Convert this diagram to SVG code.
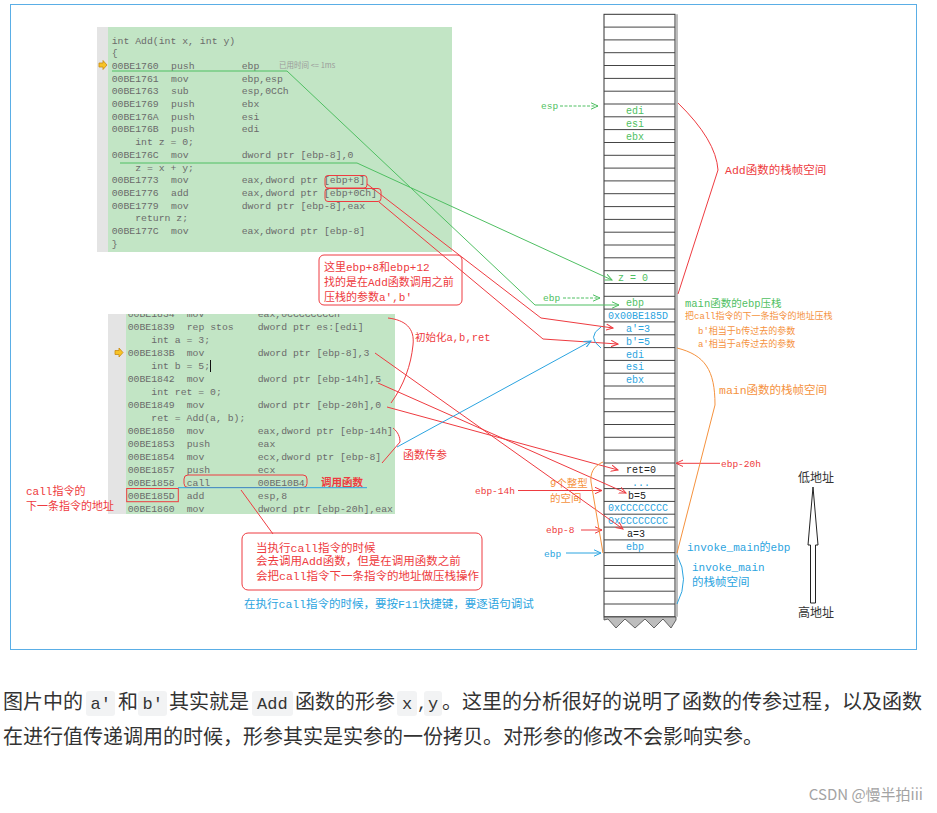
<svg xmlns="http://www.w3.org/2000/svg" width="937" height="813" viewBox="0 0 937 813">
<style>
.code{font-family:"Liberation Mono","DejaVu Sans Mono",monospace;font-size:9.8px;fill:#6b6b6b}
.ann{font-family:"Liberation Mono","Noto Sans CJK SC",monospace}
.r{fill:#ee3b40}.g{fill:#4fbf62}.b{fill:#2ba4e0}.o{fill:#f5923e}.k{fill:#222}
.st{font-family:"Liberation Mono",monospace;font-size:10px}
.lr{stroke:#ee3b40;fill:none;stroke-width:1}
.lg{stroke:#4fbf62;fill:none;stroke-width:1}
.lb{stroke:#2ba4e0;fill:none;stroke-width:1}
.lo{stroke:#f5923e;fill:none;stroke-width:1}
.bt{font-family:"Noto Sans CJK SC","Noto Sans",sans-serif;font-size:20px;fill:#333}
.bc{font-family:"Liberation Mono",monospace;font-size:17px;fill:#333}
.cbg{fill:#f2f3f4}
</style>
<defs>
<marker id="mr" markerWidth="8" markerHeight="8" refX="7" refY="4" orient="auto" markerUnits="userSpaceOnUse"><path d="M0,0.8 L7,4 L0,7.2" fill="none" stroke="#ee3b40" stroke-width="1"/></marker>
<marker id="mg" markerWidth="8" markerHeight="8" refX="7" refY="4" orient="auto" markerUnits="userSpaceOnUse"><path d="M0,0.8 L7,4 L0,7.2" fill="none" stroke="#4fbf62" stroke-width="1"/></marker>
<marker id="mb" markerWidth="8" markerHeight="8" refX="7" refY="4" orient="auto" markerUnits="userSpaceOnUse"><path d="M0,0.8 L7,4 L0,7.2" fill="none" stroke="#2ba4e0" stroke-width="1"/></marker>
<clipPath id="c2"><rect x="100" y="314" width="300" height="210"/></clipPath>
<path id="yarrow" d="M0,-2 L4,-2 L4,-4.5 L8,0 L4,4.5 L4,2 L0,2 Z" fill="#f7c325" stroke="#c98a10" stroke-width="0.8"/>
</defs>
<rect width="937" height="813" fill="#fff"/>
<rect id="frame" x="10.5" y="4.5" width="906" height="645" fill="none" stroke="#5aaee6" stroke-width="1"/>

<g id="code-add">
<rect x="97" y="27" width="11" height="225" fill="#e4e4e4"/>
<rect x="108" y="27" width="344" height="225" fill="#c2e5c5"/>
<use href="#yarrow" x="99" y="65"/>
<text class="code" x="111.7" y="43.5">int Add(int x, int y)</text>
<text class="code" x="111.7" y="56.2">{</text>
<text class="code" y="68.9"><tspan x="111.7">00BE1760</tspan><tspan x="171">push</tspan><tspan x="241.7">ebp</tspan></text>
<text x="279" y="68" style="font-family:'Noto Sans CJK SC',sans-serif;font-size:7.5px;fill:#9a9a9a">已用时间 &lt;= 1ms</text>
<text class="code" y="81.6"><tspan x="111.7">00BE1761</tspan><tspan x="171">mov</tspan><tspan x="241.7">ebp,esp</tspan></text>
<text class="code" y="94.3"><tspan x="111.7">00BE1763</tspan><tspan x="171">sub</tspan><tspan x="241.7">esp,0CCh</tspan></text>
<text class="code" y="107"><tspan x="111.7">00BE1769</tspan><tspan x="171">push</tspan><tspan x="241.7">ebx</tspan></text>
<text class="code" y="119.7"><tspan x="111.7">00BE176A</tspan><tspan x="171">push</tspan><tspan x="241.7">esi</tspan></text>
<text class="code" y="132.4"><tspan x="111.7">00BE176B</tspan><tspan x="171">push</tspan><tspan x="241.7">edi</tspan></text>
<text class="code" x="135.2" y="145.1">int z = 0;</text>
<text class="code" y="157.8"><tspan x="111.7">00BE176C</tspan><tspan x="171">mov</tspan><tspan x="241.7">dword ptr [ebp-8],0</tspan></text>
<text class="code" x="135.2" y="170.5">z = x + y;</text>
<text class="code" y="183.2"><tspan x="111.7">00BE1773</tspan><tspan x="171">mov</tspan><tspan x="241.7">eax,dword ptr [ebp+8]</tspan></text>
<text class="code" y="195.9"><tspan x="111.7">00BE1776</tspan><tspan x="171">add</tspan><tspan x="241.7">eax,dword ptr [ebp+0Ch]</tspan></text>
<text class="code" y="208.6"><tspan x="111.7">00BE1779</tspan><tspan x="171">mov</tspan><tspan x="241.7">dword ptr [ebp-8],eax</tspan></text>
<text class="code" x="135.2" y="221.3">return z;</text>
<text class="code" y="234"><tspan x="111.7">00BE177C</tspan><tspan x="171">mov</tspan><tspan x="241.7">eax,dword ptr [ebp-8]</tspan></text>
<text class="code" x="111.7" y="246.7">}</text>
<rect x="325" y="175.5" width="42" height="12.5" rx="3" class="lr"/>
<rect x="325" y="188.5" width="56" height="13" rx="3" class="lr"/>
</g>

<g id="code-main">
<rect x="108" y="314" width="18" height="200" fill="#e4e4e4"/>
<rect x="126" y="314" width="269" height="200" fill="#c2e5c5"/>
<g clip-path="url(#c2)">
<text class="code" y="316.7"><tspan x="127.7">00BE1834</tspan><tspan x="186.7">mov</tspan><tspan x="257.7">eax,0CCCCCCCCh</tspan></text>
</g>
<use href="#yarrow" x="115" y="352.5"/>
<text class="code" y="330.2"><tspan x="127.7">00BE1839</tspan><tspan x="186.7">rep stos</tspan><tspan x="257.7">dword ptr es:[edi]</tspan></text>
<text class="code" x="151.3" y="343.2">int a = 3;</text>
<text class="code" y="356.1"><tspan x="127.7">00BE183B</tspan><tspan x="186.7">mov</tspan><tspan x="257.7">dword ptr [ebp-8],3</tspan></text>
<text class="code" x="151.3" y="369.1">int b = 5;</text>
<line x1="210.5" y1="360" x2="210.5" y2="372" stroke="#111" stroke-width="1"/>
<text class="code" y="382"><tspan x="127.7">00BE1842</tspan><tspan x="186.7">mov</tspan><tspan x="257.7">dword ptr [ebp-14h],5</tspan></text>
<text class="code" x="151.3" y="395">int ret = 0;</text>
<text class="code" y="407.9"><tspan x="127.7">00BE1849</tspan><tspan x="186.7">mov</tspan><tspan x="257.7">dword ptr [ebp-20h],0</tspan></text>
<text class="code" x="151.3" y="420.9">ret = Add(a, b);</text>
<text class="code" y="433.8"><tspan x="127.7">00BE1850</tspan><tspan x="186.7">mov</tspan><tspan x="257.7">eax,dword ptr [ebp-14h]</tspan></text>
<text class="code" y="446.8"><tspan x="127.7">00BE1853</tspan><tspan x="186.7">push</tspan><tspan x="257.7">eax</tspan></text>
<text class="code" y="459.7"><tspan x="127.7">00BE1854</tspan><tspan x="186.7">mov</tspan><tspan x="257.7">ecx,dword ptr [ebp-8]</tspan></text>
<text class="code" y="472.7"><tspan x="127.7">00BE1857</tspan><tspan x="186.7">push</tspan><tspan x="257.7">ecx</tspan></text>
<text class="code" y="485.6"><tspan x="127.7">00BE1858</tspan><tspan x="186.7">call</tspan><tspan x="257.7">00BE10B4</tspan></text>
<text class="code" y="498.6"><tspan x="127.7">00BE185D</tspan><tspan x="186.7">add</tspan><tspan x="257.7">esp,8</tspan></text>
<text class="code" y="511.5"><tspan x="127.7">00BE1860</tspan><tspan x="186.7">mov</tspan><tspan x="257.7">dword ptr [ebp-20h],eax</tspan></text>
<rect x="184" y="475" width="123" height="12.5" rx="4" class="lr"/>
<rect x="126.7" y="488.5" width="51.6" height="13.2" class="lr"/>
</g>

<g id="stack">
<rect x="604" y="14.3" width="71" height="602.5" fill="#fff" stroke="#333" stroke-width="1"/>
<line x1="677" y1="14.3" x2="677" y2="616.8" stroke="#bdbdbd" stroke-width="2"/>
<path stroke="#444" stroke-width="1" fill="none" d="M604,27.1H675M604,39.9H675M604,52.7H675M604,65.5H675M604,78.4H675M604,91.2H675M604,104H675M604,116.8H675M604,129.6H675M604,142.5H675M604,155.3H675M604,168.1H675M604,180.9H675M604,193.7H675M604,206.6H675M604,219.4H675M604,232.2H675M604,245H675M604,257.8H675M604,270.7H675M604,283.5H675M604,296.3H675M604,309.1H675M604,321.9H675M604,334.8H675M604,347.6H675M604,360.4H675M604,373.2H675M604,386H675M604,398.9H675M604,411.7H675M604,424.5H675M604,437.3H675M604,450.1H675M604,463H675M604,475.8H675M604,488.6H675M604,501.4H675M604,514.2H675M604,527.1H675M604,539.9H675M604,552.7H675M604,565.5H675M604,578.3H675M604,591.2H675M604,604H675"/>
<polygon points="604,617 676,617 676,620 671,628 663,619 654,628 645,619 635,628 625,619 616,628 608,619 604,620" fill="#bdbdbd" stroke="#444" stroke-width="0.8"/>
<text class="st g" x="626" y="114">edi</text>
<text class="st g" x="626" y="126.8">esi</text>
<text class="st g" x="626" y="139.6">ebx</text>
<text class="st g" x="618" y="280.7">z = 0</text>
<text class="st g" x="626" y="306.3">ebp</text>
<text class="st b" x="608" y="319.1">0x00BE185D</text>
<text class="st b" x="626" y="331.9">a'=3</text>
<text class="st b" x="626" y="344.8">b'=5</text>
<text class="st b" x="626" y="357.6">edi</text>
<text class="st b" x="626" y="370.4">esi</text>
<text class="st b" x="626" y="383.2">ebx</text>
<text class="st k" x="626" y="473">ret=0</text>
<text class="st b" x="632" y="485.8">...</text>
<text class="st k" x="628" y="498.6">b=5</text>
<text class="st b" x="608" y="511.4">0xCCCCCCCC</text>
<text class="st b" x="608" y="524.2">0xCCCCCCCC</text>
<text class="st k" x="627" y="537.1">a=3</text>
<text class="st b" x="626" y="549.9">ebp</text>
</g>

<g id="labels">
<text class="ann g" x="541" y="109" font-size="9.5">esp</text>
<text class="ann g" x="543" y="301" font-size="9.5">ebp</text>
<text class="ann r" x="475" y="494" font-size="9.5">ebp-14h</text>
<text class="ann r" x="546" y="533" font-size="9.5">ebp-8</text>
<text class="ann b" x="544" y="557" font-size="9.5">ebp</text>
<text class="ann r" x="721" y="466.5" font-size="9.5">ebp-20h</text>
<text class="ann o" x="550" y="486.5" font-size="10.5">9个整型</text>
<text class="ann o" x="550" y="501.5" font-size="10.5">的空间</text>
<text class="ann r" x="725" y="174" font-size="11.5">Add函数的栈帧空间</text>
<text class="ann g" x="685" y="307" font-size="10.5">main函数的ebp压栈</text>
<text class="ann o" x="685" y="318.5" font-size="9">把call指令的下一条指令的地址压栈</text>
<text class="ann o" x="698" y="334" font-size="9">b'相当于b传过去的参数</text>
<text class="ann o" x="698" y="347" font-size="9">a'相当于a传过去的参数</text>
<text class="ann o" x="719" y="394" font-size="11.5">main函数的栈帧空间</text>
<text class="ann b" x="687" y="550.5" font-size="11">invoke_main的ebp</text>
<text class="ann b" x="692" y="571" font-size="11">invoke_main</text>
<text class="ann b" x="692" y="586" font-size="11.5">的栈帧空间</text>
<text class="ann r" x="415" y="340.5" font-size="10.5">初始化a,b,ret</text>
<text class="ann r" x="403" y="459" font-size="11">函数传参</text>
<text class="ann r" x="321" y="486" font-size="10.5" font-weight="bold">调用函数</text>
<text class="ann r" x="26" y="495" font-size="11">call指令的</text>
<text class="ann r" x="26" y="510" font-size="11">下一条指令的地址</text>
<text class="ann b" x="244" y="608" font-size="11.5">在执行call指令的时候，要按F11快捷键，要逐语句调试</text>
<text x="798" y="482" style="font-family:'Noto Sans CJK SC',sans-serif;font-size:12px;fill:#333">低地址</text>
<text x="798" y="617" style="font-family:'Noto Sans CJK SC',sans-serif;font-size:12px;fill:#333">高地址</text>
<polygon points="813,487 818,545 815.5,545 815.5,603 810.5,603 810.5,545 808,545" fill="#fff" stroke="#222" stroke-width="1"/>
</g>

<g id="note-ebp">
<rect x="319" y="255" width="143" height="50" rx="5" class="lr"/>
<text class="ann r" x="324" y="271" font-size="11">这里ebp+8和ebp+12</text>
<text class="ann r" x="324" y="286" font-size="11">找的是在Add函数调用之前</text>
<text class="ann r" x="324" y="300.5" font-size="11">压栈的参数a',b'</text>
</g>

<g id="note-call">
<rect x="242" y="533" width="240" height="57" rx="6" class="lr"/>
<text class="ann r" x="256" y="551.5" font-size="11.5">当执行call指令的时候</text>
<text class="ann r" x="256" y="565" font-size="11.5">会去调用Add函数，但是在调用函数之前</text>
<text class="ann r" x="256" y="580" font-size="11.5">会把call指令下一条指令的地址做压栈操作</text>
</g>

<g id="connectors">
<path class="lg" d="M112,71 H287 L535,305 H619" marker-end="url(#mg)"/>
<path class="lg" d="M120,163 H357 L612,280" marker-end="url(#mg)"/>
<path class="lg" d="M560,106 H598" stroke-dasharray="3,1.5" marker-end="url(#mg)"/>
<path class="lg" d="M563,298 H600" stroke-dasharray="3,1.5" marker-end="url(#mg)"/>
<path class="lr" d="M367,184 L541,318 L613,328" marker-end="url(#mr)"/>
<path class="lr" d="M379,202 L543,339 L618,344" marker-end="url(#mr)"/>
<path class="lr" d="M375,353 L623,529" marker-end="url(#mr)"/>
<path class="lr" d="M378,383 L626,493" marker-end="url(#mr)"/>
<path class="lr" d="M387,407 L618,470" marker-end="url(#mr)"/>
<path class="lr" d="M518,490.5 H602" marker-end="url(#mr)"/>
<path class="lr" d="M581,530 H602" marker-end="url(#mr)"/>
<path class="lr" d="M720,463.3 H676" marker-end="url(#mr)"/>
<path class="lb" d="M566,553 H601" marker-end="url(#mb)"/>
<path class="lb" d="M397,447 L591,341" marker-end="url(#mb)"/>
<path class="lb" d="M178,487.7 H367"/>
<path class="lb" d="M601,327 Q586,337 601,348"/>
<path class="lb" d="M677,555 Q690,579 677,604"/>
<path class="lr" d="M241,490 L273,534"/>
<path class="lr" d="M388,318 C405,320 415,328 413,345 C411,365 404,385 391,403"/>
<path class="lr" d="M393,428 C398,432 400,437 400,442 L382,463"/>
<path class="lr" d="M678,103 Q716,140 718,170 L678,294"/>
<path class="lo" d="M677,348 C705,355 715,370 715,405 L677,553"/>
<path class="lo" d="M603,462 C593,466 590,474 591,482 L603,553"/>
</g>

<g id="caption">
<text class="bt" x="3" y="709">图片中的</text>
<rect class="cbg" x="86" y="691" width="29" height="25" rx="3"/>
<text class="bc" x="90.5" y="709">a'</text>
<text class="bt" x="118" y="709">和</text>
<rect class="cbg" x="138" y="691" width="29" height="25" rx="3"/>
<text class="bc" x="142.5" y="709">b'</text>
<text class="bt" x="169" y="709">其实就是</text>
<rect class="cbg" x="252" y="691" width="41" height="25" rx="3"/>
<text class="bc" x="257" y="709">Add</text>
<text class="bt" x="295" y="709">函数的形参</text>
<rect class="cbg" x="397" y="691" width="20" height="25" rx="3"/>
<text class="bc" x="402" y="709">x</text>
<text class="bc" x="417" y="709">,</text>
<rect class="cbg" x="424" y="691" width="18" height="25" rx="3"/>
<text class="bc" x="428" y="709">y</text>
<text class="bt" x="442" y="709">。这里的分析很好的说明了函数的传参过程，以及函数</text>
<text class="bt" x="3" y="744">在进行值传递调用的时候，形参其实是实参的一份拷贝。对形参的修改不会影响实参。</text>
<text x="923" y="800" text-anchor="end" style="font-family:'Noto Sans CJK SC',sans-serif;font-size:15px;fill:#a3a3a3">CSDN @慢半拍iii</text>
</g>
</svg>
